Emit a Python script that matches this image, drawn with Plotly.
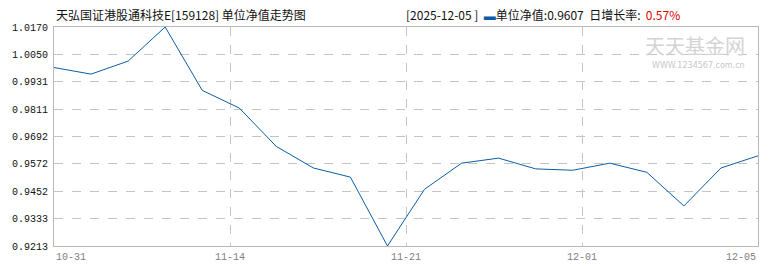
import plotly.graph_objects as go

# ---- data ----
nav = [0.9993, 0.9964, 1.0021, 1.0170, 0.9893, 0.9816, 0.9648, 0.9554, 0.9514, 0.9213,
       0.9461, 0.9575, 0.9597, 0.9550, 0.9544, 0.9575, 0.9535, 0.9388, 0.9554, 0.9607]
x_tick_labels = ["10-31", "11-14", "11-21", "12-01", "12-05"]
y_tick_labels = ["1.0170", "1.0050", "0.9931", "0.9811", "0.9692", "0.9572", "0.9452", "0.9333", "0.9213"]
title_text = "天弘国证港股通科技E[159128] 单位净值走势图"
info_date = "[2025-12-05 ]"
info_nav = "单位净值:0.9607"
info_chg_label = "日增长率:"
info_chg = "0.57%"

LINE = "#0c5da5"
GRID = "#c4c4c4"
AXIS = "#b8b8b8"
CJK = "Noto Sans CJK SC, sans-serif"
MONO = "Liberation Mono, DejaVu Sans Mono, monospace"

n = len(nav)
xs = list(range(n))
y_vals = [float(v) for v in y_tick_labels]
x_ticks = [i * (n - 1) / (len(x_tick_labels) - 1) for i in range(len(x_tick_labels))]

fig = go.Figure()
fig.add_trace(go.Scatter(x=xs, y=nav, mode="lines",
                         line=dict(color=LINE, width=1), hoverinfo="skip"))

fig.update_layout(
    width=770, height=270,
    margin=dict(l=54, r=12, t=27, b=24, pad=0),
    paper_bgcolor="white", plot_bgcolor="white",
    showlegend=False,
    xaxis=dict(range=[0, n - 1], tickvals=x_ticks, showticklabels=False,
               showgrid=True, gridcolor=GRID, griddash="dash", gridwidth=1,
               zeroline=False, showline=True, linecolor=AXIS, linewidth=1, mirror=True,
               ticks=""),
    yaxis=dict(range=[min(y_vals), max(y_vals)], tickvals=y_vals, ticktext=y_tick_labels,
               showgrid=True, gridcolor=GRID, griddash="dash", gridwidth=1,
               zeroline=False, showline=True, linecolor=AXIS, linewidth=1, mirror=True,
               ticks="", ticklabelstandoff=3,
               tickfont=dict(family=MONO, size=10, color="#111111")),
)

# x tick labels (first left-aligned, middle centered, last right-aligned)
for i, (xv, lab) in enumerate(zip(x_ticks, x_tick_labels)):
    anchor = "left" if i == 0 else ("right" if i == len(x_ticks) - 1 else "center")
    fig.add_annotation(x=xv, xref="x", y=0, yref="paper", yshift=-4,
                       text=lab, showarrow=False, xanchor=anchor, yanchor="top",
                       font=dict(family=MONO, size=10, color="#808080"))

# title
fig.add_annotation(x=0, xref="paper", xshift=0, y=1, yref="paper", yshift=13,
                   text=title_text, showarrow=False, xanchor="left", yanchor="middle",
                   font=dict(family=CJK, size=12, color="#111111"))

# info text on the right
info = (info_date + "  <span style='color:%s'>▬</span>" % LINE + info_nav +
        "  " + info_chg_label + "  <span style='color:#e00000'>" + info_chg + "</span>")
fig.add_annotation(x=(404 - 54) / 704, xref="paper", y=1, yref="paper", yshift=13,
                   text=info, showarrow=False, xanchor="left", yanchor="middle",
                   font=dict(family=CJK, size=12, color="#111111"))

# watermark
fig.add_annotation(x=(747 - 54) / 704, xref="paper", y=1, yref="paper", yshift=-18,
                   text="天天基金网", showarrow=False, xanchor="right", yanchor="middle",
                   font=dict(family=CJK, size=20, color="#d4d4d4"))
fig.add_annotation(x=(747 - 54) / 704, xref="paper", y=1, yref="paper", yshift=-38,
                   text="WWW.1234567.com.cn", showarrow=False, xanchor="right", yanchor="middle",
                   font=dict(family="DejaVu Sans", size=8, color="#c8c8c8"))

fig.write_html("out.html")
